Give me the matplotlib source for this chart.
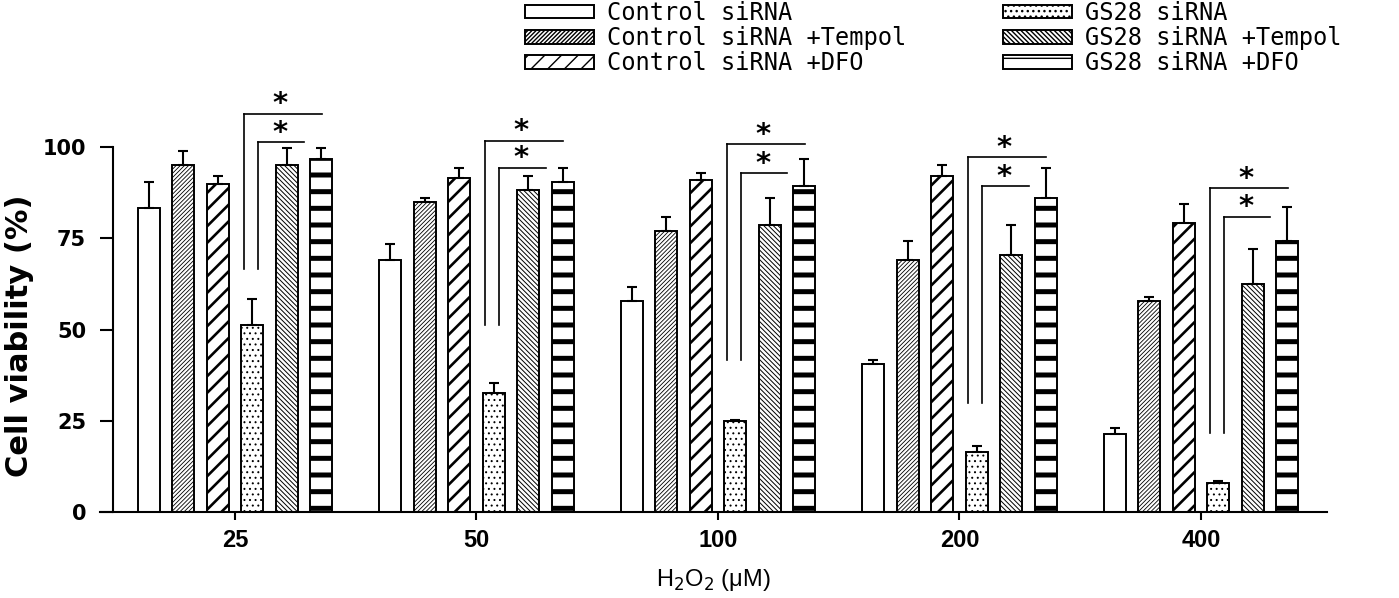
import numpy as np
import matplotlib
matplotlib.use('Agg')
import matplotlib.pyplot as plt
from matplotlib.font_manager import FontProperties

# ---------------- data ----------------
concentrations = ['25', '50', '100', '200', '400']
series_labels = ['Control siRNA', 'Control siRNA +Tempol', 'Control siRNA +DFO',
                 'GS28 siRNA', 'GS28 siRNA +Tempol', 'GS28 siRNA +DFO']
control = [83.3, 69.1, 57.9, 40.5, 21.4]
control_err = [7.2, 4.4, 3.8, 1.1, 1.7]
control_tempol = [95.0, 84.9, 77.0, 69.1, 57.9]
control_tempol_err = [3.9, 1.0, 3.8, 5.1, 1.1]
control_dfo = [90.0, 91.6, 91.0, 92.1, 79.3]
control_dfo_err = [2.1, 2.7, 1.8, 2.9, 5.0]
gs28 = [51.1, 32.7, 24.8, 16.4, 8.0]
gs28_err = [7.2, 2.6, 0.4, 1.6, 0.5]
gs28_tempol = [95.0, 88.2, 78.7, 70.3, 62.4]
gs28_tempol_err = [4.8, 3.9, 7.2, 8.3, 9.6]
gs28_dfo = [96.6, 90.5, 89.3, 86.0, 74.2]
gs28_dfo_err = [3.2, 3.8, 7.3, 8.3, 9.4]

# significance brackets (heights in % units)
outer_bracket = [109.1, 101.7, 100.7, 97.2, 88.7]
inner_bracket = [101.3, 94.3, 92.8, 89.3, 80.9]
bracket_base = [66.6, 51.2, 41.6, 30.0, 21.6]

values = [control, control_tempol, control_dfo, gs28, gs28_tempol, gs28_dfo]
errors = [control_err, control_tempol_err, control_dfo_err, gs28_err, gs28_tempol_err, gs28_dfo_err]

# ---------------- style ----------------
hatches = [None, '/' * 8, '//', '...', '\\' * 7, '-']
hatch_lws = [0.7, 0.6, 1.9, 0.7, 0.7, 3.6]

W, H = 1399, 598
fig = plt.figure(figsize=(W / 100, H / 100), dpi=100)
ax = fig.add_axes([100 / W, (H - 512) / H, 1227 / W, 115 * 3.65 / H])

x = np.arange(len(concentrations))
step = 0.143
width = 0.091
offsets = (np.arange(6) - 2.5) * step

containers = []
for i in range(6):
    bc = ax.bar(x + offsets[i], values[i], width, color='white', edgecolor='black',
                linewidth=1.4, hatch=hatches[i], label=series_labels[i], zorder=2)
    for p in bc.patches:
        try:
            p.set_hatch_linewidth(hatch_lws[i])
        except Exception:
            pass
    containers.append(bc)
    ax.errorbar(x + offsets[i], values[i],
                yerr=[np.zeros(len(x)), errors[i]], fmt='none', ecolor='black',
                elinewidth=1.5, capsize=3.6, capthick=1.5, zorder=3)

# significance brackets
o_start, i_start, o_end, i_end = 0.037, 0.095, 0.36, 0.286
for g in range(len(x)):
    ax.plot([x[g] + o_start] * 2, [bracket_base[g], outer_bracket[g]], color='black', lw=1.2, zorder=3)
    ax.plot([x[g] + o_start, x[g] + o_end], [outer_bracket[g]] * 2, color='black', lw=1.2, zorder=3)
    ax.plot([x[g] + i_start] * 2, [bracket_base[g], inner_bracket[g]], color='black', lw=1.2, zorder=3)
    ax.plot([x[g] + i_start, x[g] + i_end], [inner_bracket[g]] * 2, color='black', lw=1.2, zorder=3)
    sx = x[g] + 0.186
    ax.text(sx, outer_bracket[g] + 0.4, '*', ha='center', va='baseline', fontsize=21,
            fontweight='bold', family='DejaVu Sans')
    ax.text(sx, inner_bracket[g] + 0.4, '*', ha='center', va='baseline', fontsize=21,
            fontweight='bold', family='DejaVu Sans')

# axes
ax.set_xlim(-0.559, 4.522)
ax.set_ylim(0, 115)
for s in ['top', 'right']:
    ax.spines[s].set_visible(False)
ax.spines['left'].set_position(('data', -0.505))
ax.spines['left'].set_bounds(0, 100)
ax.spines['left'].set_linewidth(1.5)
ax.spines['bottom'].set_linewidth(1.5)

ax.set_yticks([0, 25, 50, 75, 100])
ax.set_yticklabels(['0', '25', '50', '75', '100'])
ax.tick_params(axis='y', direction='out', length=9.4, width=1.5, pad=10)
ax.set_xticks(x)
ax.set_xticklabels(concentrations)
ax.tick_params(axis='x', direction='out', length=6, width=1.5, pad=6)
for t in ax.get_yticklabels():
    t.set_fontproperties(FontProperties(family='DejaVu Sans', weight='bold', size=15))
for t in ax.get_xticklabels():
    t.set_fontproperties(FontProperties(family='Liberation Sans', weight='bold', size=17))

plt.rcParams['mathtext.fontset'] = 'custom'
plt.rcParams['mathtext.rm'] = 'Liberation Sans'
plt.rcParams['mathtext.it'] = 'Liberation Sans:italic'
plt.rcParams['mathtext.bf'] = 'Liberation Sans:bold'

ax.set_ylabel('Cell viability (%)', fontsize=22, fontweight='bold', family='DejaVu Sans')
ax.yaxis.set_label_coords(34 / W, (H - 336) / H, transform=fig.transFigure)
ax.set_xlabel('H$_2$O$_2$ (μM)', fontsize=17, family='Liberation Sans')
ax.xaxis.set_label_coords(713 / W, (H - 567) / H, transform=fig.transFigure)

leg = fig.legend(handles=containers, labels=series_labels, ncol=2, loc='upper left',
                 bbox_to_anchor=(525 / W, 1 - 1 / H), bbox_transform=fig.transFigure,
                 frameon=False, borderpad=0, borderaxespad=0,
                 handlelength=2.92, handleheight=0.51, handletextpad=0.55,
                 columnspacing=4.1, labelspacing=0.05,
                 prop=FontProperties(family='DejaVu Sans Mono', size=17))

fig.savefig('out.png', dpi=100)
